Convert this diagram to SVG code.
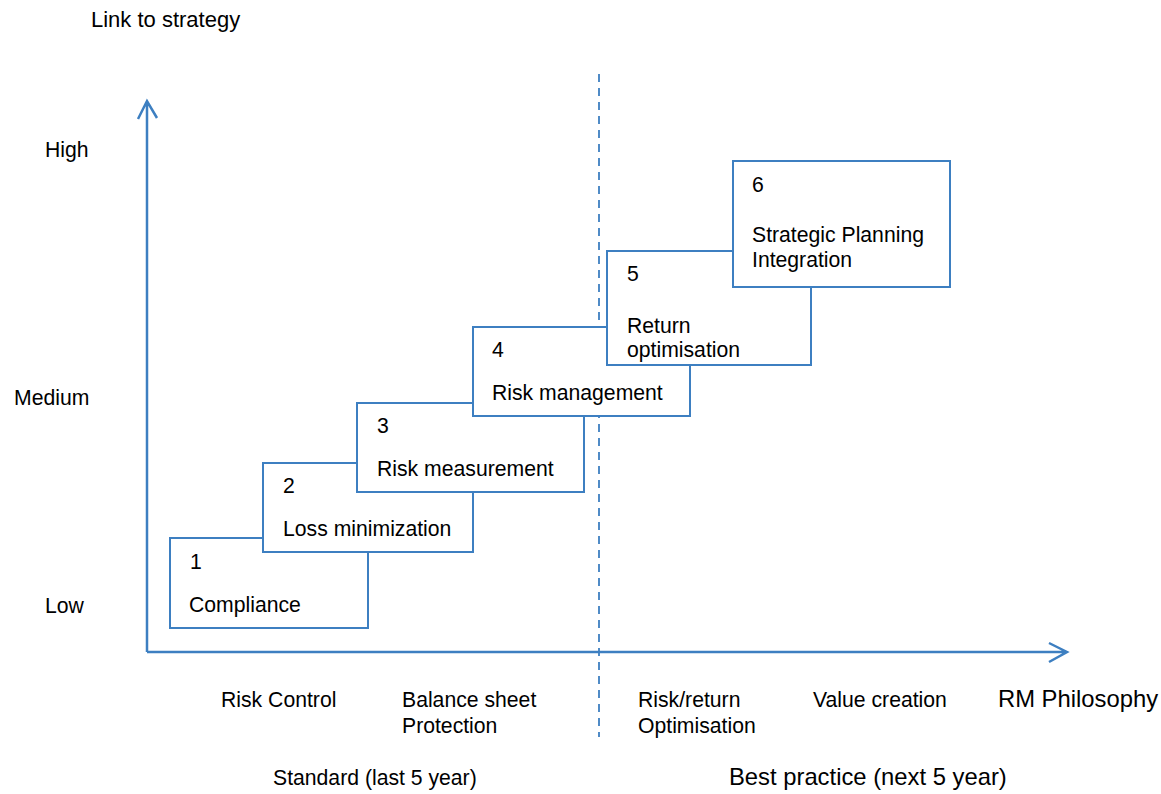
<svg xmlns="http://www.w3.org/2000/svg" width="1161" height="794" viewBox="0 0 1161 794">
<style>
text{font-family:"Liberation Sans",Arial,sans-serif;font-size:21.2px;fill:#000}
.big{font-size:23.8px}
.box{fill:#fff;stroke:#3d7fc1;stroke-width:2}
.axis{fill:none;stroke:#3d7fc1;stroke-width:2.5}
.dash{fill:none;stroke:#3d7fc1;stroke-width:1.8;stroke-dasharray:8 6}
</style>
<rect width="1161" height="794" fill="#fff"/>
<g id="labels">
<text x="91" y="27" style="font-size:22px">Link to strategy</text>
<text x="45" y="157">High</text>
<text x="14" y="405">Medium</text>
<text x="45" y="613">Low</text>
<text x="221" y="707">Risk Control</text>
<text x="402" y="707">Balance sheet</text>
<text x="402" y="733">Protection</text>
<text x="638" y="707">Risk/return</text>
<text x="638" y="733">Optimisation</text>
<text x="813" y="707">Value creation</text>
<text x="998" y="707" class="big">RM Philosophy</text>
<text x="273" y="785">Standard (last 5 year)</text>
<text x="729" y="785" class="big">Best practice (next 5 year)</text>
</g>
<g id="connectors">
<line class="dash" x1="599" y1="74" x2="599" y2="737"/>
<path class="axis" d="M147 652 V101 M138 119 L147 101 L157 118"/>
<path class="axis" d="M147 652 H1066 M1049 643 L1067 652 L1049 662"/>
</g>
<g id="node1">
<rect class="box" x="170" y="538" width="198" height="90"/>
<text x="190" y="569">1</text>
<text x="189" y="612">Compliance</text>
</g>
<g id="node2">
<rect class="box" x="263" y="463" width="210" height="89"/>
<text x="283" y="493">2</text>
<text x="283" y="536">Loss minimization</text>
</g>
<g id="node3">
<rect class="box" x="357" y="403" width="227" height="89"/>
<text x="377" y="433">3</text>
<text x="377" y="476">Risk measurement</text>
</g>
<g id="node4">
<rect class="box" x="473" y="327" width="217" height="89"/>
<text x="492" y="357">4</text>
<text x="492" y="400">Risk management</text>
</g>
<g id="node5">
<rect class="box" x="607" y="251" width="204" height="114"/>
<text x="627" y="281">5</text>
<text x="627" y="333">Return</text>
<text x="627" y="357">optimisation</text>
</g>
<g id="node6">
<rect class="box" x="733" y="161" width="217" height="126"/>
<text x="752" y="192">6</text>
<text x="752" y="242">Strategic Planning</text>
<text x="752" y="267">Integration</text>
</g>
</svg>
